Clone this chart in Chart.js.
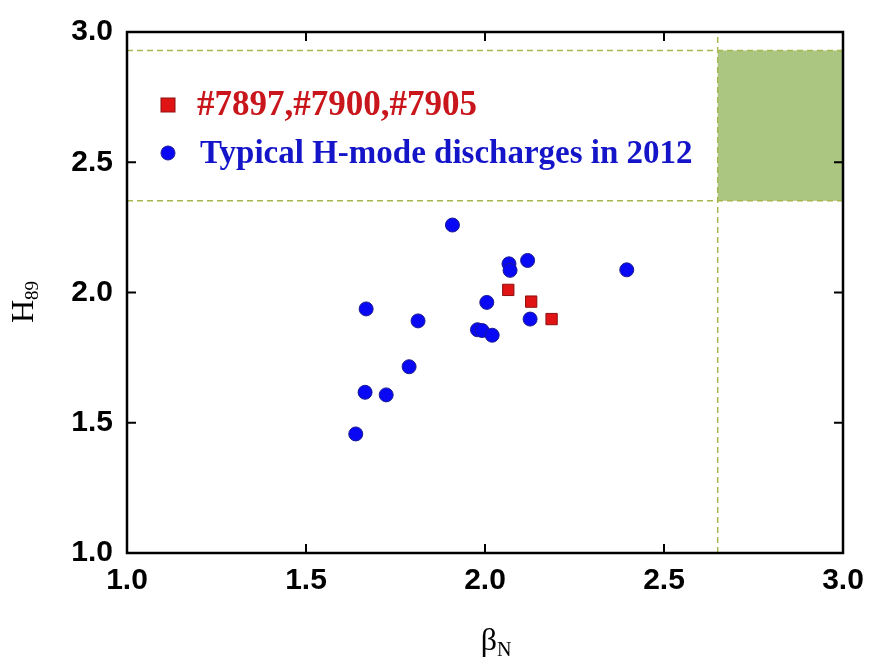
<!DOCTYPE html>
<html>
<head>
<meta charset="utf-8">
<script src="https://cdn.jsdelivr.net/npm/chart.js@4.4.1/dist/chart.umd.min.js"></script>
<style>
  html, body { margin: 0; padding: 0; background: #fff; }
  #wrap { width: 874px; height: 666px; }
</style>
</head>
<body>
<div id="wrap"><canvas id="chart" width="874" height="666"></canvas></div>
<script>
// shots #7897, #7900, #7905
const shotBetaN = [2.065, 2.129, 2.186];
const shotH89 = [2.010, 1.965, 1.898];

// typical H-mode discharges, 2012
const typicalBetaN = [1.909, 2.067, 2.070, 2.119, 2.396, 1.668, 2.005, 2.126, 1.813, 1.979, 1.992, 2.020, 1.788, 1.665, 1.724, 1.639];
const typicalH89 = [2.259, 2.110, 2.085, 2.123, 2.087, 1.937, 1.962, 1.898, 1.891, 1.857, 1.854, 1.836, 1.715, 1.617, 1.607, 1.457];

const axisTicks = [1.0, 1.5, 2.0, 2.5, 3.0];
const targetBetaN = 2.65;
const targetH89 = [2.352, 2.929];
const legendLabels = ["#7897,#7900,#7905", "Typical H-mode discharges in 2012"];

const toPoints = (xs, ys) => xs.map((x, i) => ({ x, y: ys[i] }));
const dashColor = "#a9b650";

const framePlugin = {
  id: "frame",
  beforeDatasetsDraw(chart) {
    const { ctx, scales: { x, y } } = chart;
    const x0 = x.getPixelForValue(targetBetaN);
    const x1 = x.getPixelForValue(x.max);
    const y0 = y.getPixelForValue(targetH89[1]);
    const y1 = y.getPixelForValue(targetH89[0]);
    ctx.save();
    ctx.fillStyle = "#abc681";
    ctx.fillRect(x0, y0, x1 - x0, y1 - y0);
    ctx.restore();
  },
  afterDatasetsDraw(chart) {
    const { ctx, chartArea: a } = chart;
    ctx.save();
    // legend inside the plot
    const items = [
      { ds: chart.data.datasets[0], color: "#c8161c", label: legendLabels[0], dy: 73, size: 35, gap: 29 },
      { ds: chart.data.datasets[1], color: "#1414c8", label: legendLabels[1], dy: 121, size: 33, gap: 32 },
    ];
    items.forEach((it) => {
      const mx = a.left + 41;
      const my = a.top + it.dy;
      ctx.fillStyle = it.ds.backgroundColor;
      ctx.strokeStyle = it.ds.borderColor;
      ctx.lineWidth = 1;
      if (it.ds.pointStyle === "rect") {
        ctx.fillRect(mx - 7, my - 7, 14, 14);
        ctx.strokeRect(mx - 7, my - 7, 14, 14);
      } else {
        ctx.beginPath();
        ctx.arc(mx, my, 7, 0, Math.PI * 2);
        ctx.fill();
        ctx.stroke();
      }
      ctx.fillStyle = it.color;
      ctx.font = `bold ${it.size}px 'Liberation Serif', 'Times New Roman', serif`;
      ctx.textBaseline = "middle";
      ctx.textAlign = "left";
      ctx.fillText(it.label, mx + it.gap, my + 1);
    });
    ctx.restore();
  },
  afterDraw(chart) {
    const { ctx, chartArea: a, scales: { x, y } } = chart;
    ctx.save();
    ctx.strokeStyle = "#000";
    ctx.lineWidth = 2.5;
    ctx.strokeRect(a.left, a.top, a.right - a.left, a.bottom - a.top);
    ctx.lineWidth = 2;
    ctx.beginPath();
    axisTicks.forEach((v) => {
      const px = x.getPixelForValue(v);
      ctx.moveTo(px, a.bottom); ctx.lineTo(px, a.bottom - 9);
      ctx.moveTo(px, a.top); ctx.lineTo(px, a.top + 9);
      const py = y.getPixelForValue(v);
      ctx.moveTo(a.left, py); ctx.lineTo(a.left + 9, py);
      ctx.moveTo(a.right, py); ctx.lineTo(a.right - 9, py);
    });
    ctx.stroke();

    // axis titles with subscripts
    ctx.fillStyle = "#000";
    ctx.textBaseline = "alphabetic";
    ctx.textAlign = "left";
    const cx = (a.left + a.right) / 2 + 11;
    ctx.font = "32px 'Liberation Serif', 'Times New Roman', serif";
    const bw = ctx.measureText("\u03b2").width;
    ctx.font = "20px 'Liberation Serif', 'Times New Roman', serif";
    const nw = ctx.measureText("N").width;
    let sx = cx - (bw + nw) / 2;
    ctx.font = "32px 'Liberation Serif', 'Times New Roman', serif";
    ctx.fillText("\u03b2", sx, 650);
    ctx.font = "20px 'Liberation Serif', 'Times New Roman', serif";
    ctx.fillText("N", sx + bw, 656);

    ctx.translate(33, 302);
    ctx.rotate(-Math.PI / 2);
    ctx.font = "32px 'Liberation Serif', 'Times New Roman', serif";
    const hw = ctx.measureText("H").width;
    ctx.font = "19px 'Liberation Serif', 'Times New Roman', serif";
    const sw = ctx.measureText("89").width;
    sx = -(hw + sw) / 2;
    ctx.font = "32px 'Liberation Serif', 'Times New Roman', serif";
    ctx.fillText("H", sx, 0);
    ctx.font = "19px 'Liberation Serif', 'Times New Roman', serif";
    ctx.fillText("89", sx + hw, 5);
    ctx.restore();
  },
};

const dashed = (pts) => ({
  data: pts,
  showLine: true,
  borderColor: dashColor,
  borderWidth: 1.5,
  borderDash: [6, 4],
  pointRadius: 0,
  pointHoverRadius: 0,
  fill: false,
});

new Chart(document.getElementById("chart"), {
  type: "scatter",
  data: {
    datasets: [
      {
        label: legendLabels[0],
        data: toPoints(shotBetaN, shotH89),
        pointStyle: "rect",
        pointRadius: 8,
        backgroundColor: "#e01414",
        borderColor: "#8c1010",
        borderWidth: 1,
        order: 1,
      },
      {
        label: legendLabels[1],
        data: toPoints(typicalBetaN, typicalH89),
        pointStyle: "circle",
        pointRadius: 7,
        backgroundColor: "#0808f4",
        borderColor: "#1a1a90",
        borderWidth: 1,
        order: 2,
      },
      Object.assign(dashed(toPoints([1, 3], [targetH89[1], targetH89[1]])), { order: 3 }),
      Object.assign(dashed(toPoints([1, 3], [targetH89[0], targetH89[0]])), { order: 3 }),
      Object.assign(dashed(toPoints([targetBetaN, targetBetaN], [1, 3])), { order: 3 }),
    ],
  },
  options: {
    responsive: false,
    animation: false,
    events: [],
    layout: { padding: { top: 27, right: 31, left: 0, bottom: 0 } },
    plugins: { legend: { display: false }, tooltip: { enabled: false } },
    scales: {
      x: {
        type: "linear",
        min: 1,
        max: 3,
        afterBuildTicks: (s) => { s.ticks = axisTicks.map((v) => ({ value: v })); },
        afterFit: (s) => { s.height = 113; },
        grid: { display: false, drawTicks: false },
        border: { display: false },
        ticks: {
          padding: 10,
          color: "#000",
          font: { family: "'Liberation Sans', Arial, sans-serif", size: 30, weight: "bold" },
          callback: (v) => Number(v).toFixed(1),
        },
      },
      y: {
        type: "linear",
        min: 1,
        max: 3,
        afterBuildTicks: (s) => { s.ticks = axisTicks.map((v) => ({ value: v })); },
        afterFit: (s) => { s.width = 127; },
        grid: { display: false, drawTicks: false },
        border: { display: false },
        ticks: {
          padding: 14,
          color: "#000",
          font: { family: "'Liberation Sans', Arial, sans-serif", size: 30, weight: "bold" },
          callback: (v) => Number(v).toFixed(1),
        },
      },
    },
  },
  plugins: [framePlugin],
});
</script>
</body>
</html>
